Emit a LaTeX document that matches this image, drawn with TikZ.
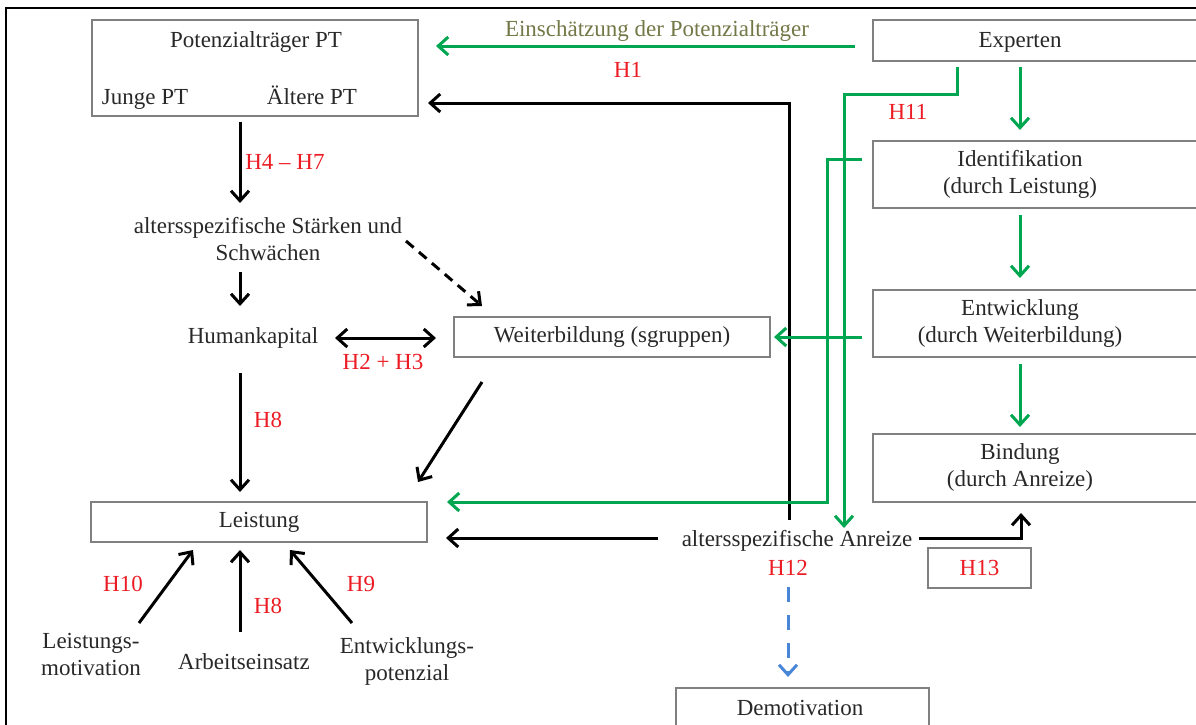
\documentclass[tikz,border=0pt]{standalone}
\usepackage{fontspec}
\setmainfont{Liberation Serif}
\usetikzlibrary{arrows.meta,calc}
\definecolor{hred}{RGB}{235,28,36}
\definecolor{hgreen}{RGB}{0,166,80}
\definecolor{hblue}{RGB}{74,134,216}
\definecolor{holive}{RGB}{115,120,70}
\definecolor{boxgray}{RGB}{128,128,128}
\definecolor{txt}{RGB}{40,40,40}

\begin{document}
\begin{tikzpicture}[x=1pt,y=-1pt,
  every node/.style={inner sep=0pt, text=txt, font=\fontsize{23}{27}\selectfont},
  box/.style={draw=boxgray, line width=1.5pt},
  lbl/.style={text=hred},
  tip/.style={-{Straight Barb[length=10pt,width=18pt]}},
  barr/.style={line width=3pt, tip},
  garr/.style={barr, draw=hgreen},
  darr/.style={barr, dash pattern=on 10pt off 7pt},
  blarr/.style={barr, draw=hblue, dash pattern=on 15pt off 13pt},
  biarr/.style={line width=3pt, {Straight Barb[length=10pt,width=18pt]}-{Straight Barb[length=10pt,width=18pt]}}
]
\useasboundingbox (0,0) rectangle (1196,724);
\clip (0,0) rectangle (1196,724);

% outer frame
\draw[line width=2.5pt] (6,740) -- (6,8) -- (1210,8);

% boxes
\node[box, minimum width=326pt, minimum height=96pt] (pt) at (255,68) {};
\node (ptt) at (256,42) {Potenzialträger PT};
\node[anchor=base] (jpt) at (145,104) {Junge PT};
\node[anchor=base] (apt) at (312,104) {Ältere PT};

\node[box, minimum width=327pt, minimum height=41pt] (exp) at (1036.5,40.5) {};
\node (expt) at (1020,42) {Experten};
\node[box, minimum width=327pt, minimum height=67pt] (idf) at (1036.5,174.5) {};
\node[align=center] (idft) at (1020,174) {Identifikation\\(durch Leistung)};
\node[box, minimum width=327pt, minimum height=67pt] (ent) at (1036.5,323.5) {};
\node[align=center] (entt) at (1020,323) {Entwicklung\\(durch Weiterbildung)};
\node[box, minimum width=327pt, minimum height=68pt] (bnd) at (1036.5,468) {};
\node[align=center] (bndt) at (1020,467) {Bindung\\(durch Anreize)};

\node[box, minimum width=316pt, minimum height=40pt] (wb) at (612,337) {Weiterbildung (sgruppen)};
\node[box, minimum width=336pt, minimum height=40pt] (lst) at (259,522) {Leistung};
\node[box, lbl, minimum width=103pt, minimum height=40pt] (h13) at (979.5,568) {H13};
\node[box, minimum width=253pt, minimum height=62pt] (dem) at (802.5,719) {};
\node (demt) at (800,708) {Demotivation};

% free texts
\node[align=center] (stk) at (268,239) {altersspezifische Stärken und\\Schwächen};
\node (hk) at (253,338) {Humankapital};
\node (anz) at (797,541) {altersspezifische Anreize};
\node[align=center] (lm) at (91,654) {Leistungs-\\motivation};
\node (ae) at (244,662) {Arbeitseinsatz};
\node[align=center] (ep) at (407,661) {Entwicklungs-\\potenzial};

% labels
\node[text=holive] (einsch) at (657,31) {Einschätzung der Potenzialträger};
\node[lbl] (h1) at (628,70) {H1};
\node[lbl] (h11) at (908,112) {H11};
\node[lbl] (h47) at (285,162) {H4 – H7};
\node[lbl] (h23) at (383,362) {H2 + H3};
\node[lbl] (h8a) at (268,420) {H8};
\node[lbl] (h8b) at (268,606) {H8};
\node[lbl] (h10) at (123,584) {H10};
\node[lbl] (h9) at (361,584) {H9};
\node[lbl] (h12) at (788,568) {H12};

% black connectors
\draw[barr] ([shift={(-8,-21)}]anz.center) |- ([shift={(173,35)}]pt.center);
\draw[barr] ([shift={(-15,54)}]pt.center) -- ([shift={(-28,-36)}]stk.center);
\draw[barr] ([shift={(-28,33)}]stk.center) -- ([shift={(-13,-32)}]hk.center);
\draw[darr] ([shift={(138,2)}]stk.center) -- ([shift={(-130,-31)}]wb.center);
\draw[biarr] ([shift={(82,0)}]hk.center) -- ([shift={(-176,1)}]wb.center);
\draw[barr] ([shift={(-13,35)}]hk.center) -- ([shift={(-19,-30)}]lst.center);
\draw[barr] ([shift={(-130,45)}]wb.center) -- ([shift={(159,-40)}]lst.center);
\draw[barr] ([shift={(-139,-3)}]anz.center) -- ([shift={(187,16)}]lst.center);
\draw[barr] ([shift={(122,-3)}]anz.center) -| ([shift={(-15.5,45)}]bnd.center);
\draw[barr] ([shift={(48,-31)}]lm.center) -- ([shift={(-66,28)}]lst.center);
\draw[barr] ([shift={(-4,-30)}]ae.center) -- ([shift={(-19,28)}]lst.center);
\draw[barr] ([shift={(-55,-38)}]ep.center) -- ([shift={(31,28)}]lst.center);

% green connectors
\draw[garr] ([shift={(-181.5,5.5)}]exp.center) -- ([shift={(181,-22)}]pt.center);
\draw[garr] ([shift={(-79.5,26.5)}]exp.center) -- ++(0,27) -| ([shift={(47,-13)}]anz.center);
\draw[garr] ([shift={(-174.5,-15.5)}]idf.center) -- ++(-35,0) |- ([shift={(188,-20)}]lst.center);
\draw[garr] ([shift={(-174.5,13.5)}]ent.center) -- ([shift={(162,0)}]wb.center);
\draw[garr] ([shift={(-16.5,26.5)}]exp.center) -- ([shift={(-16.5,-44.5)}]idf.center);
\draw[garr] ([shift={(-16.5,40.5)}]idf.center) -- ([shift={(-16.5,-45.5)}]ent.center);
\draw[garr] ([shift={(-16.5,40.5)}]ent.center) -- ([shift={(-16.5,-41)}]bnd.center);

% blue dashed connector
\draw[blarr] ([shift={(-9,46)}]anz.center) -- ([shift={(-14.5,-42)}]dem.center);
\end{tikzpicture}
\end{document}
